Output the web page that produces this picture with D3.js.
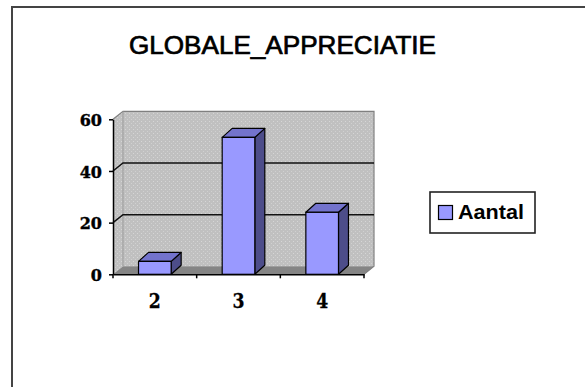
<!DOCTYPE html>
<html><head><meta charset="utf-8">
<script src="https://cdn.jsdelivr.net/npm/d3@7"></script>
<style>html,body{margin:0;padding:0;background:#fff;overflow:hidden}</style>
</head><body>
<script>
const title = "GLOBALE_APPRECIATIE";
const categories = ["2", "3", "4"];
const values = [5, 53, 24];
const seriesName = "Aantal";
const yTicks = [0, 20, 40, 60];

const W = 585, H = 387;
const svg = d3.select("body").append("svg").attr("width", W).attr("height", H);

const defs = svg.append("defs");
const pat = defs.append("pattern").attr("id", "dots").attr("patternUnits", "userSpaceOnUse")
  .attr("width", 4).attr("height", 4);
pat.append("rect").attr("width", 4).attr("height", 4).attr("fill", "#c0c0c0");
pat.append("rect").attr("x", 1).attr("y", 1).attr("width", 1).attr("height", 1).attr("fill", "#d6d6d6");
pat.append("rect").attr("x", 3).attr("y", 3).attr("width", 1).attr("height", 1).attr("fill", "#d0d0d0");

// outer frame
svg.append("rect").attr("x", 12).attr("y", 7).attr("width", 700).attr("height", 500)
  .attr("fill", "none").attr("stroke", "#444").attr("stroke-width", 2);

// title
svg.append("text").attr("x", 282.5).attr("y", 54).attr("text-anchor", "middle")
  .attr("font-family", "Liberation Sans, Arial, sans-serif").attr("font-size", 25)
  .attr("textLength", 307).attr("lengthAdjust", "spacingAndGlyphs")
  .attr("fill", "#000").attr("stroke", "#000").attr("stroke-width", 0.7).text(title);

const x0 = 113, x1 = 364, dx = 10, dy = -8;
const x = d3.scaleBand().domain(categories).range([x0, x1]).padding(0);
const y = d3.scaleLinear().domain([0, 60]).range([274.3, 119.3]);

// side wall
svg.append("polygon")
  .attr("points", [[x0, y(60)], [x0 + dx, y(60) + dy], [x0 + dx, y(0) + dy], [x0, y(0)]].join(" "))
  .attr("fill", "url(#dots)").attr("stroke", "none");
// back wall
svg.append("rect").attr("x", x0 + dx).attr("y", y(60) + dy)
  .attr("width", x1 - x0).attr("height", y(0) - y(60))
  .attr("fill", "url(#dots)").attr("stroke", "none");
// floor
svg.append("polygon")
  .attr("points", [[x0, y(0)], [x1, y(0)], [x1 + dx, y(0) + dy], [x0 + dx, y(0) + dy]].join(" "))
  .attr("fill", "#858585").attr("stroke", "none");
// wall edges
svg.append("polyline")
  .attr("points", [[x0, y(60)], [x0 + dx, y(60) + dy], [x1 + dx, y(60) + dy], [x1 + dx, y(0) + dy], [x1, y(0)]].join(" "))
  .attr("fill", "none").attr("stroke", "#808080").attr("stroke-width", 1.2);
svg.append("line").attr("x1", x0 + dx).attr("x2", x0 + dx).attr("y1", y(60) + dy).attr("y2", y(0) + dy)
  .attr("stroke", "#9a9a9a").attr("stroke-width", 1);

// gridlines
const grid = svg.append("g");
yTicks.filter(t => t > 0 && t < 60).forEach(t => {
  grid.append("polyline")
    .attr("points", [[x0, y(t)], [x0 + dx, y(t) + dy], [x1 + dx, y(t) + dy]].join(" "))
    .attr("fill", "none").attr("stroke", "#111").attr("stroke-width", 1.5);
});

// bars
const bw = x.bandwidth() * 0.39, bdx = 10, bdy = -9;
const bars = svg.append("g");
categories.forEach((c, i) => {
  const cx = x(c) + x.bandwidth() / 2;
  const L = cx - bw / 2, R = cx + bw / 2, T = y(values[i]), B = y(0);
  bars.append("polygon").attr("points", [[R, T], [R + bdx, T + bdy], [R + bdx, B + bdy], [R, B]].join(" "))
    .attr("fill", "#4d4d8a").attr("stroke", "#000").attr("stroke-width", 1.2).attr("stroke-linejoin", "round");
  bars.append("polygon").attr("points", [[L, T], [L + bdx, T + bdy], [R + bdx, T + bdy], [R, T]].join(" "))
    .attr("fill", "#7373cc").attr("stroke", "#000").attr("stroke-width", 1.2).attr("stroke-linejoin", "round");
  bars.append("rect").attr("x", L).attr("y", T).attr("width", R - L).attr("height", B - T)
    .attr("fill", "#9999ff").attr("stroke", "#000").attr("stroke-width", 1.2);
});

// axes
const yAxis = svg.append("g").attr("transform", `translate(${x0},0)`)
  .call(d3.axisLeft(y).tickValues(yTicks).tickSize(4).tickSizeOuter(0));
yAxis.select(".domain").attr("stroke", "#000").attr("stroke-width", 1.5);
yAxis.selectAll(".tick line").attr("stroke", "#000").attr("stroke-width", 1.5);
yAxis.selectAll(".tick text").attr("x", -11).attr("dy", "0.38em")
  .attr("font-family", "DejaVu Serif, serif").attr("font-weight", "bold").attr("font-size", 16)
  .attr("stroke", "#000").attr("stroke-width", 0.4)
  .attr("fill", "#000");

const xAxis = svg.append("g").attr("transform", `translate(0,${y(0)})`)
  .call(d3.axisBottom(x).tickSize(0).tickSizeOuter(0));
xAxis.select(".domain").attr("stroke", "#000").attr("stroke-width", 1.5);
xAxis.selectAll(".tick text").attr("y", 33.5).attr("dy", 0)
  .attr("font-family", "DejaVu Serif, serif").attr("font-weight", "bold").attr("font-size", 20)
  .attr("textLength", 12).attr("lengthAdjust", "spacingAndGlyphs")
  .attr("stroke", "#000").attr("stroke-width", 0.3)
  .attr("fill", "#000");
const bounds = categories.map(c => x(c)).concat([x1]);
svg.append("g").selectAll("line").data(bounds).join("line")
  .attr("x1", d => d).attr("x2", d => d).attr("y1", y(0)).attr("y2", y(0) + 4)
  .attr("stroke", "#000").attr("stroke-width", 1.5);

// legend
const lg = svg.append("g");
lg.append("rect").attr("x", 430).attr("y", 192).attr("width", 105).attr("height", 41)
  .attr("fill", "#fff").attr("stroke", "#222").attr("stroke-width", 1.6);
lg.append("rect").attr("x", 438.5).attr("y", 205.5).attr("width", 14).attr("height", 14)
  .attr("fill", "#9999ff").attr("stroke", "#000").attr("stroke-width", 1.2);
lg.append("text").attr("x", 458).attr("y", 219).attr("font-family", "Liberation Sans, Arial, sans-serif")
  .attr("font-weight", "bold").attr("font-size", 21).attr("textLength", 66).attr("lengthAdjust", "spacingAndGlyphs")
  .attr("fill", "#000").text(seriesName);
</script>
</body></html>
